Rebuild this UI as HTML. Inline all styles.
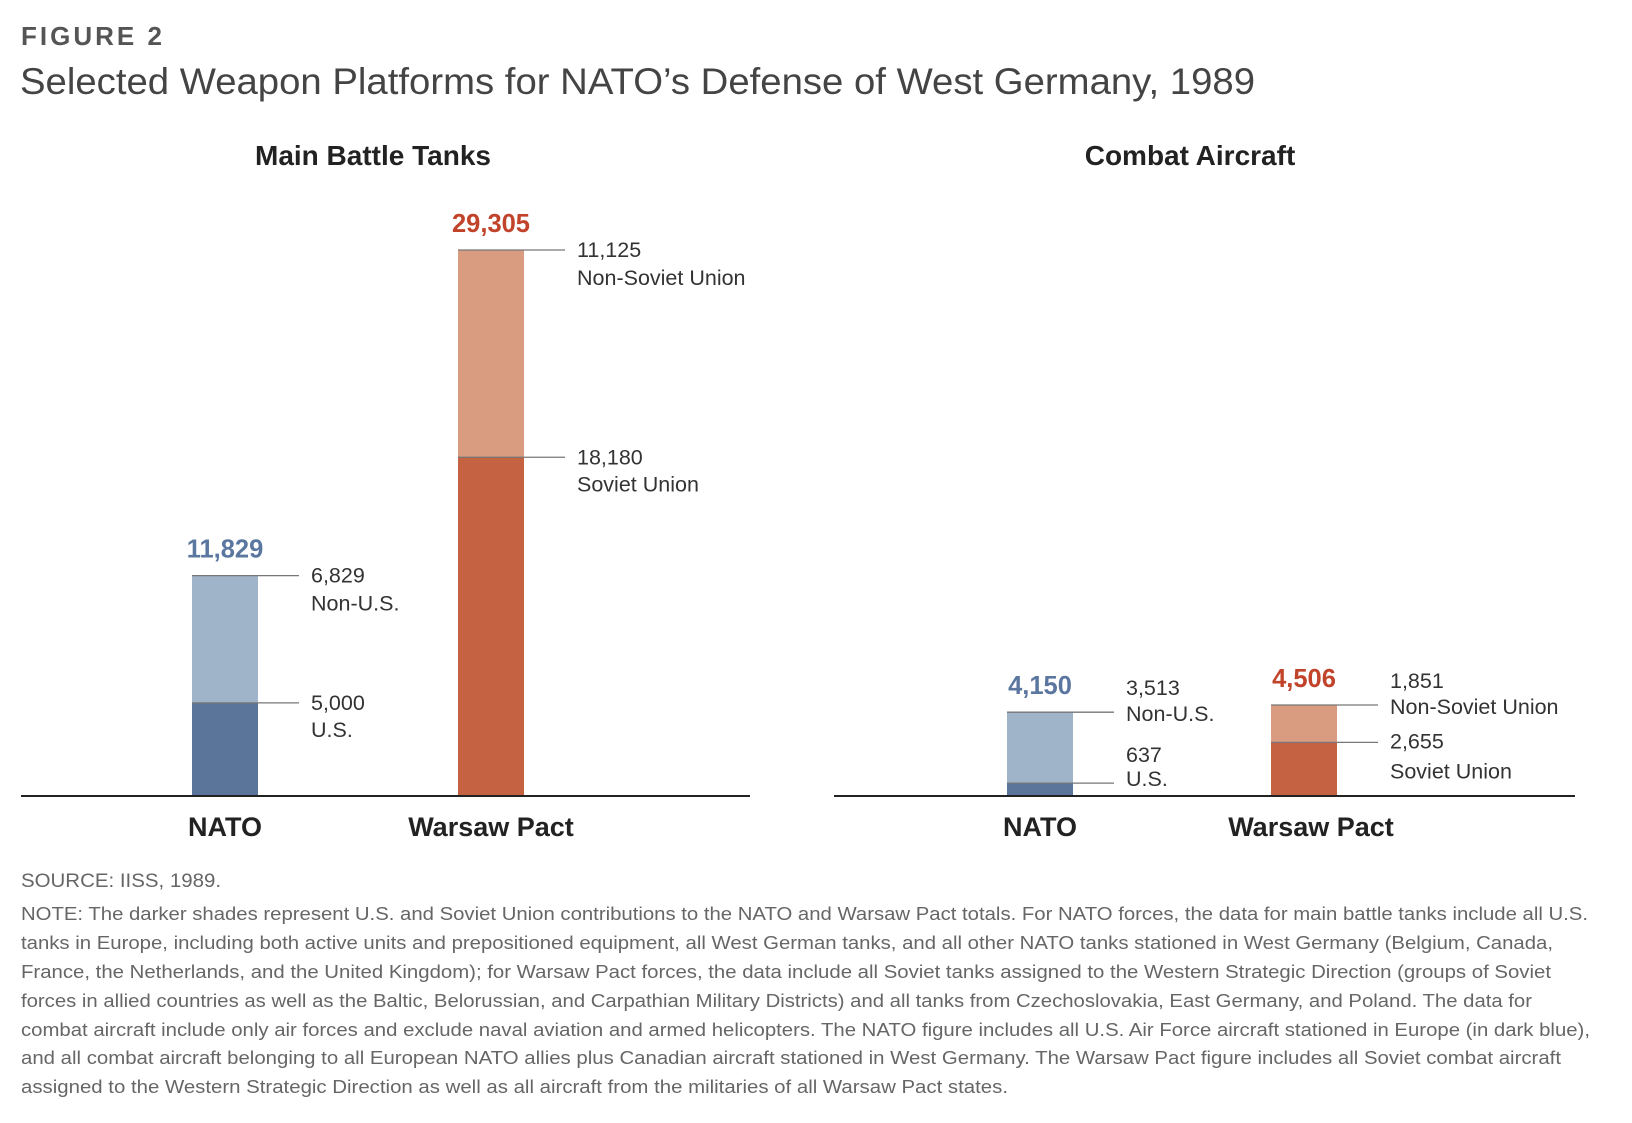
<!DOCTYPE html>
<html><head><meta charset="utf-8"><style>
html,body{margin:0;padding:0;background:#fff;}
svg{display:block;font-family:"Liberation Sans",Arial,sans-serif;}
</style></head><body>
<svg id="chart" width="1632" height="1123" viewBox="0 0 1632 1123" xmlns="http://www.w3.org/2000/svg">
<text x="21" y="45" font-size="26" font-weight="bold" fill="#555" letter-spacing="3">FIGURE 2</text>
<text x="20" y="94" font-size="37" fill="#444" textLength="1235" lengthAdjust="spacingAndGlyphs">Selected Weapon Platforms for NATO’s Defense of West Germany, 1989</text>
<text x="373" y="165" font-size="28" font-weight="bold" fill="#222" text-anchor="middle">Main Battle Tanks</text>
<text x="1190" y="165" font-size="28" font-weight="bold" fill="#222" text-anchor="middle">Combat Aircraft</text>
<g id="marks"></g>
<line x1="21" x2="750" y1="796" y2="796" stroke="#222" stroke-width="2"/>
<line x1="834" x2="1575" y1="796" y2="796" stroke="#222" stroke-width="2"/>
<text x="21" y="887" font-size="19" fill="#666" textLength="200" lengthAdjust="spacingAndGlyphs">SOURCE: IISS, 1989.</text>
<g font-size="18" fill="#666">
<text x="21" y="920" textLength="1567" lengthAdjust="spacingAndGlyphs">NOTE:  The darker shades represent U.S. and Soviet Union contributions to the NATO and Warsaw Pact totals. For NATO forces, the data for main battle tanks include all U.S.</text>
<text x="21" y="949" textLength="1532" lengthAdjust="spacingAndGlyphs">tanks in Europe, including both active units and prepositioned equipment, all West German tanks, and all other NATO tanks stationed in West Germany (Belgium, Canada,</text>
<text x="21" y="978" textLength="1530" lengthAdjust="spacingAndGlyphs">France, the Netherlands, and the United Kingdom); for Warsaw Pact forces, the data include all Soviet tanks assigned to the Western Strategic Direction (groups of Soviet</text>
<text x="21" y="1007" textLength="1511" lengthAdjust="spacingAndGlyphs">forces in allied countries as well as the Baltic, Belorussian, and Carpathian Military Districts) and all tanks from Czechoslovakia, East Germany, and Poland. The data for</text>
<text x="21" y="1036" textLength="1569" lengthAdjust="spacingAndGlyphs">combat aircraft include only air forces and exclude naval aviation and armed helicopters. The NATO figure includes all U.S. Air Force aircraft stationed in Europe (in dark blue),</text>
<text x="21" y="1064" textLength="1540" lengthAdjust="spacingAndGlyphs">and all combat aircraft belonging to all European NATO allies plus Canadian aircraft stationed in West Germany. The Warsaw Pact figure includes all Soviet combat aircraft</text>
<text x="21" y="1093" textLength="987" lengthAdjust="spacingAndGlyphs">assigned to the Western Strategic Direction as well as all aircraft from the militaries of all Warsaw Pact states.</text>
</g>
</svg>
<script>
const panels = ["tanks", "aircraft"];
const categories = ["NATO", "Warsaw Pact"];
const tanksBase = [5000, 18180];
const tanksTop = [6829, 11125];
const aircraftBase = [637, 2655];
const aircraftTop = [3513, 1851];
const baseLabels = [["U.S.", "Soviet Union"], ["U.S.", "Soviet Union"]];
const topLabels = [["Non-U.S.", "Non-Soviet Union"], ["Non-U.S.", "Non-Soviet Union"]];

const NS = "http://www.w3.org/2000/svg";
const g = document.getElementById("marks");
const AXIS_Y = 796;
const cfg = {
  tanks: {scale: 546 / 29305, bars: [192, 458], base: tanksBase, top: tanksTop},
  aircraft: {scale: 0.0202, bars: [1007, 1271], base: aircraftBase, top: aircraftTop}
};
const BW = 66, LEAD = 41, LX = 53;
const darkC = ["#5a7599", "#c46242"], lightC = ["#9fb4c9", "#d99c80"], totC = ["#5b77a0", "#c0432a"];
function y(p, v) { return AXIS_Y - v * cfg[p].scale; }
function el(tag, attrs, txt) {
  const e = document.createElementNS(NS, tag);
  for (const k in attrs) e.setAttribute(k, attrs[k]);
  if (txt !== undefined) e.textContent = txt;
  g.appendChild(e);
  return e;
}
function fmt(v) { return v.toLocaleString("en-US"); }
panels.forEach((p, pi) => {
  const c = cfg[p];
  categories.forEach((cat, i) => {
    const x = c.bars[i], b = c.base[i], t = c.top[i], tot = b + t;
    const yb = y(p, b), yt = y(p, tot);
    let r = el("rect", {x: x, y: yt, width: BW, height: yb - yt, fill: lightC[i]});
    
    
    r = el("rect", {x: x, y: yb, width: BW, height: AXIS_Y - yb, fill: darkC[i]});
    
    
    let l = el("line", {x1: x, x2: x + BW + LEAD, y1: yt, y2: yt, stroke: "#777", "stroke-width": 1.3});
    
    
    l = el("line", {x1: x, x2: x + BW + LEAD, y1: yb, y2: yb, stroke: "#777", "stroke-width": 1.3});
    
    
    const lx = x + BW + LX;
    let ty = yt + 7, tly = yt + 35;
    let by = yb + 7, bly = yb + 34;
    if (p === "aircraft") {
      ty = yt - 17; tly = yt + 9;
      if (i === 0) { by = yb - 21; bly = yb + 3; }
      else { by = yb + 6; bly = yb + 36; }
    }
    const FS = 21.5;
    let tx = el("text", {x: lx, y: ty, "font-size": FS, fill: "#333"}, fmt(t));
    
    
    tx = el("text", {x: lx, y: tly, "font-size": FS, fill: "#333"}, topLabels[pi][i]);
    
    
    tx = el("text", {x: lx, y: by, "font-size": FS, fill: "#333"}, fmt(b));
    
    
    tx = el("text", {x: lx, y: bly, "font-size": FS, fill: "#333"}, baseLabels[pi][i]);
    
    
    tx = el("text", {x: x + BW / 2, y: yt - 18, "font-size": 25.5, "font-weight": "bold", fill: totC[i], "text-anchor": "middle"}, fmt(tot));
    
    
    tx = el("text", {x: x + BW / 2 + (p === "aircraft" && i === 1 ? 7 : 0), y: 836, "font-size": 27, "font-weight": "bold", fill: "#222", "text-anchor": "middle"}, cat);
    
    
  });
});
</script>
</body></html>
